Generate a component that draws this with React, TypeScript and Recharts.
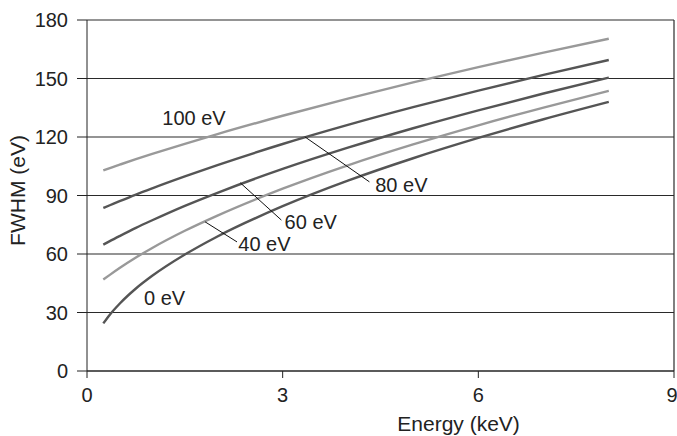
import React from "react";
import {
  LineChart,
  Line,
  XAxis,
  YAxis,
  CartesianGrid,
  ReferenceLine,
  ReferenceDot,
} from "recharts";

// Energy (keV) sample points and FWHM (eV) readings for each noise level
const energy = [0.25, 0.35, 0.5, 0.75, 1, 1.5, 2, 3, 4, 5, 6, 7, 8];
const fwhm0 = [24.4, 28.9, 34.5, 42.3, 48.8, 59.7, 69.0, 84.5, 97.6, 109.1, 119.5, 129.1, 138.0];
const fwhm40 = [46.9, 49.3, 52.8, 58.2, 63.1, 71.9, 79.7, 93.5, 105.5, 116.2, 126.0, 135.1, 143.7];
const fwhm60 = [64.8, 66.6, 69.2, 73.4, 77.3, 84.7, 91.4, 103.6, 114.5, 124.5, 133.7, 142.3, 150.5];
const fwhm80 = [83.6, 85.0, 87.1, 90.5, 93.7, 99.8, 105.6, 116.4, 126.2, 135.3, 143.8, 151.9, 159.5];
const fwhm100 = [102.9, 104.1, 105.8, 108.6, 111.3, 116.5, 121.5, 130.9, 139.7, 148.0, 155.8, 163.3, 170.4];

const xTicks = [0, 3, 6, 9];
const yTicks = [0, 30, 60, 90, 120, 150, 180];

// curve labels (data coordinates of the text centre)
const curveLabels = [
  { text: "100 eV", x: 1.64, y: 129.6 },
  { text: "80 eV", x: 4.82, y: 95.3 },
  { text: "60 eV", x: 3.43, y: 76.3 },
  { text: "40 eV", x: 2.72, y: 65.4 },
  { text: "0 eV", x: 1.19, y: 37.3 },
];

// leader lines from labels to curves
const leaders = [
  [{ x: 3.34, y: 120.1 }, { x: 4.33, y: 97.0 }],
  [{ x: 2.35, y: 96.5 }, { x: 2.98, y: 77.4 }],
  [{ x: 1.81, y: 76.5 }, { x: 2.3, y: 66.2 }],
];

const data = energy.map((e, i) => ({
  e,
  s0: fwhm0[i],
  s40: fwhm40[i],
  s60: fwhm60[i],
  s80: fwhm80[i],
  s100: fwhm100[i],
}));

const TEXT = "#222";
const FONT = 20;
const DARK = "#555";
const LIGHT = "#999";

const series = [
  { key: "s100", color: LIGHT },
  { key: "s80", color: DARK },
  { key: "s60", color: DARK },
  { key: "s40", color: LIGHT },
  { key: "s0", color: DARK },
];

export default function App() {
  return (
    <div style={{ position: "absolute", left: 0, top: 0, background: "#fff" }}>
      <LineChart
        width={677}
        height={436}
        data={data}
        margin={{ top: 20, right: 3, bottom: 0, left: 0 }}
        style={{ fontFamily: "'Liberation Sans', Arial, sans-serif" }}
      >
        <CartesianGrid vertical={false} stroke="#2a2a2a" strokeWidth={1.2} />
        <XAxis
          dataKey="e"
          type="number"
          domain={[0, 9]}
          ticks={xTicks}
          height={65}
          tickSize={7}
          tickMargin={10}
          stroke="#222"
          tick={{ fill: TEXT, fontSize: FONT }}
          label={{
            content: ({ viewBox }: any) => (
              <text
                x={viewBox.x + viewBox.width * 0.633}
                y={viewBox.y + 60}
                textAnchor="middle"
                fill={TEXT}
                fontSize={21}
              >
                Energy (keV)
              </text>
            ),
          }}
        />
        <YAxis
          type="number"
          domain={[0, 180]}
          ticks={yTicks}
          width={87}
          tickSize={10}
          tickMargin={9}
          stroke="#222"
          tick={{ fill: TEXT, fontSize: FONT }}
          label={{
            content: ({ viewBox }: any) => (
              <text
                x={17}
                y={viewBox.y + viewBox.height / 2 - 5}
                textAnchor="middle"
                dominantBaseline="central"
                fill={TEXT}
                fontSize={21}
                transform={`rotate(-90, 17, ${viewBox.y + viewBox.height / 2 - 5})`}
              >
                FWHM (eV)
              </text>
            ),
          }}
        />
        <ReferenceLine x={9} stroke="#2a2a2a" strokeWidth={1.2} />
        {series.map((s) => (
          <Line
            key={s.key}
            dataKey={s.key}
            type="monotone"
            stroke={s.color}
            strokeWidth={2.4}
            dot={false}
            activeDot={false}
            isAnimationActive={false}
          />
        ))}
        {leaders.map((seg, i) => (
          <ReferenceLine key={`l${i}`} segment={seg} stroke="#111" strokeWidth={1} />
        ))}
        {curveLabels.map((l) => (
          <ReferenceDot
            key={l.text}
            x={l.x}
            y={l.y}
            r={0}
            fill="none"
            stroke="none"
            label={{ value: l.text, position: "center", fill: TEXT, fontSize: FONT }}
          />
        ))}
      </LineChart>
    </div>
  );
}
